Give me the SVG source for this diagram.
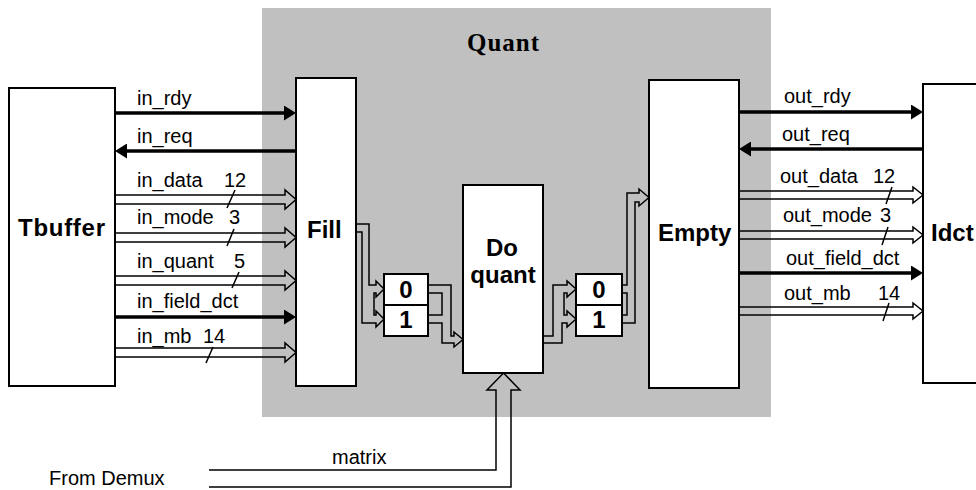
<svg xmlns="http://www.w3.org/2000/svg" width="976" height="490" viewBox="0 0 976 490">
<style>
.box{fill:#fff;stroke:#000;stroke-width:2}
.thick{stroke:#000;stroke-width:3.5;fill:none}
.bus{stroke:#000;stroke-width:1.5;fill:none;stroke-linejoin:miter}
.sl{stroke:#000;stroke-width:1.5}
.lbl{font-family:"Liberation Sans",Arial,sans-serif;font-size:20px;fill:#000}
.big{font-family:"Liberation Sans",Arial,sans-serif;font-size:24px;font-weight:bold;fill:#000}
</style>
<defs>
<marker id="ah" markerUnits="userSpaceOnUse" markerWidth="12" markerHeight="15" refX="0" refY="7.5" orient="auto">
<path d="M0,0 L12,7.5 L0,15 z" fill="#000"/>
</marker>
</defs>
<rect id="quant" x="262" y="8" width="509" height="409" fill="#c0c0c0"/>
<text x="503" y="51" text-anchor="middle" style="font-family:'Liberation Serif','Times New Roman',serif;font-size:25px;font-weight:bold" textLength="72">Quant</text>

<g id="tbuffer"><rect class="box" x="9" y="88" width="106" height="298"/><text class="big" x="18" y="236" textLength="87">Tbuffer</text></g>
<g id="fill"><rect class="box" x="296" y="78" width="60" height="308"/><text class="big" x="307" y="238">Fill</text></g>
<g id="doquant"><rect class="box" x="463" y="185" width="80" height="188"/><text class="big" x="502" y="256" text-anchor="middle">Do</text><text class="big" x="503" y="283" text-anchor="middle">quant</text></g>
<g id="empty"><rect class="box" x="649" y="80" width="90" height="308"/><text class="big" x="658" y="241">Empty</text></g>
<g id="idct"><rect class="box" x="923" y="84" width="70" height="299"/><text class="big" x="931" y="241">Idct</text></g>
<g id="mux1"><rect class="box" x="384" y="274" width="44" height="31"/><rect class="box" x="384" y="305" width="44" height="31"/><text class="big" x="406" y="298" text-anchor="middle">0</text><text class="big" x="406" y="328" text-anchor="middle">1</text></g>
<g id="mux2"><rect class="box" x="576" y="274" width="46" height="31"/><rect class="box" x="576" y="305" width="46" height="31"/><text class="big" x="599" y="298" text-anchor="middle">0</text><text class="big" x="599" y="328" text-anchor="middle">1</text></g>

<g id="connectors">
<line class="thick" x1="115" y1="113" x2="284" y2="113" marker-end="url(#ah)"/>
<line class="thick" x1="296" y1="151" x2="127" y2="151" marker-end="url(#ah)"/>
<path class="bus" d="M115,195 H285 V190 L296,199.5 L285,209 V204 H115"/>
<path class="bus" d="M115,233 H285 V228 L296,237.5 L285,247 V242 H115"/>
<path class="bus" d="M115,276 H285 V271 L296,280.5 L285,290 V285 H115"/>
<line class="thick" x1="115" y1="317" x2="284" y2="317" marker-end="url(#ah)"/>
<path class="bus" d="M115,348 H285 V343 L296,352.5 L285,362 V357 H115"/>
<line class="sl" x1="227" y1="208" x2="235" y2="190"/>
<line class="sl" x1="227" y1="246" x2="234" y2="229"/>
<line class="sl" x1="232" y1="288" x2="239" y2="272"/>
<line class="sl" x1="206" y1="363" x2="213" y2="347"/>

<line class="thick" x1="739" y1="112" x2="911" y2="112" marker-end="url(#ah)"/>
<line class="thick" x1="923" y1="149" x2="751" y2="149" marker-end="url(#ah)"/>
<path class="bus" d="M739,191 H913 V187 L923,195 L913,203 V199 H739"/>
<path class="bus" d="M739,231 H913 V227 L923,235 L913,243 V239 H739"/>
<line class="thick" x1="739" y1="273" x2="911" y2="273" marker-end="url(#ah)"/>
<path class="bus" d="M739,307 H913 V303 L923,311 L913,319 V315 H739"/>
<line class="sl" x1="886" y1="204" x2="892" y2="187"/>
<line class="sl" x1="882" y1="245" x2="888" y2="227"/>
<line class="sl" x1="883" y1="321" x2="889" y2="303"/>

<path class="bus" d="M356,224 H369 V285 H376 V281 L384,289 L376,297 V293 H374 V315 H376 V311 L384,319 L376,327 V323 H362 V232 H356"/>
<path class="bus" d="M428,285 H451 V336 H454 V332 L463,339.5 L454,347 V343 H442 V323 H428 M428,293 H442 V315 H428"/>
<path class="bus" d="M543,336 H553 V285 H567 V281 L576,289 L567,297 V293 H564 V315 H567 V311 L576,319 L567,327 V323 H562 V343 H543"/>
<path class="bus" d="M622,285 H627 V193 H639 V189 L649,197.5 L639,206 V202 H635 V323 H622 M622,293 H627 V315 H622"/>
<path class="bus" d="M209,470 H496 V390 H487 L503.5,373 L520,390 H511 V487 H209"/>
</g>

<g id="labels">
<text class="lbl" x="137" y="105">in_rdy</text>
<text class="lbl" x="137" y="143">in_req</text>
<text class="lbl" x="137" y="187">in_data</text>
<text class="lbl" x="224" y="187">12</text>
<text class="lbl" x="137" y="224">in_mode</text>
<text class="lbl" x="229" y="224">3</text>
<text class="lbl" x="137" y="268">in_quant</text>
<text class="lbl" x="234" y="268">5</text>
<text class="lbl" x="137" y="308">in_field_dct</text>
<text class="lbl" x="137" y="343">in_mb</text>
<text class="lbl" x="203" y="343">14</text>
<text class="lbl" x="784" y="103">out_rdy</text>
<text class="lbl" x="782" y="141">out_req</text>
<text class="lbl" x="780" y="183">out_data</text>
<text class="lbl" x="873" y="183">12</text>
<text class="lbl" x="783" y="222">out_mode</text>
<text class="lbl" x="880" y="222">3</text>
<text class="lbl" x="786" y="265">out_field_dct</text>
<text class="lbl" x="784" y="300">out_mb</text>
<text class="lbl" x="878" y="300">14</text>
<text class="lbl" x="332" y="464">matrix</text>
<text class="lbl" x="49" y="485">From Demux</text>
</g>
</svg>
